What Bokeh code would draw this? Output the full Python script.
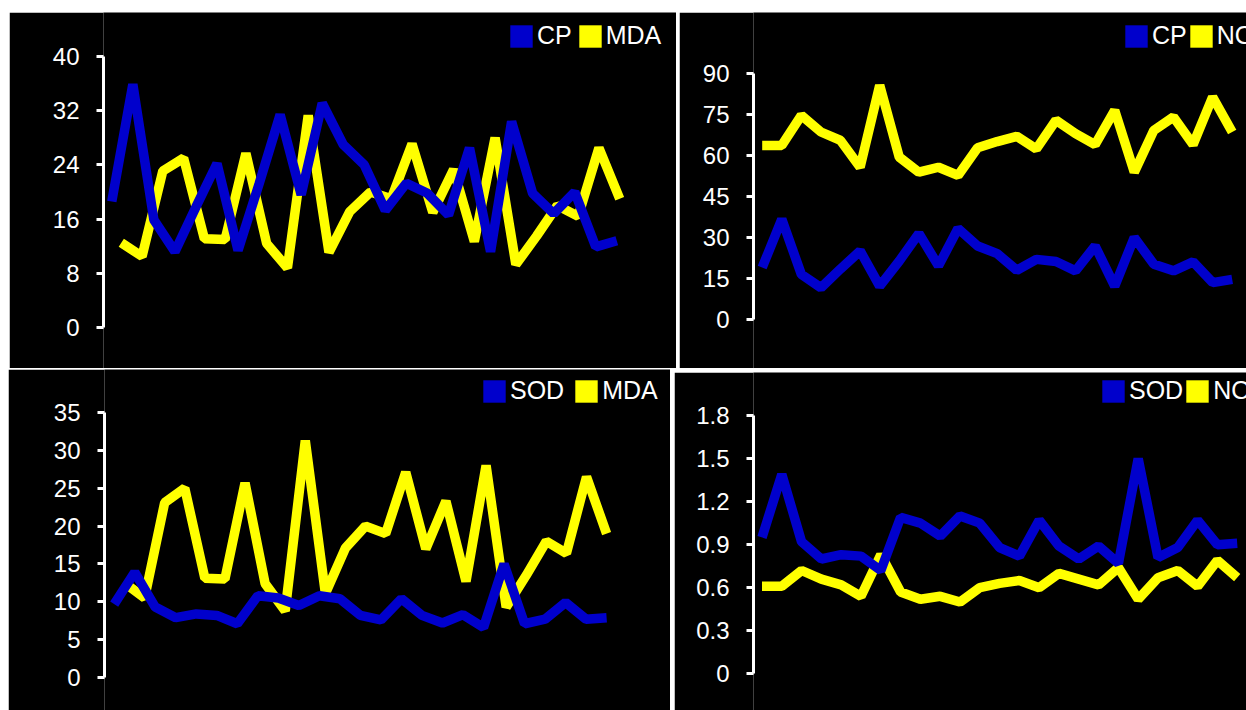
from bokeh.plotting import figure
from bokeh.models import Range1d, FixedTicker, Legend, LegendItem
from bokeh.layouts import row, column
from bokeh.embed import file_html
from bokeh.resources import INLINE

# ---------------- data ----------------
samples = list(range(1, 26))

mda = [12.5, 10.5, 23.1, 25.0, 13.1, 13.0, 25.7, 12.4, 8.8, 31.3, 11.1, 17.1, 20.0,
       19.0, 27.1, 17.0, 23.3, 12.7, 28.0, 9.3, 13.5, 18.0, 16.4, 26.5, 19.0]

cp_left = [18.6, 35.9, 15.9, 11.2, 17.8, 24.2, 11.4, 21.2, 31.4, 19.6, 33.1, 27.0, 24.0,
           17.3, 21.3, 19.8, 16.6, 26.5, 11.2, 30.4, 19.8, 16.8, 20.0, 11.9, 12.8]

cp_right = [19.0, 36.7, 16.5, 11.6, 18.5, 25.1, 12.2, 21.4, 31.5, 19.6, 33.3, 26.9, 24.1,
            18.0, 22.0, 21.2, 17.8, 26.9, 12.2, 30.0, 20.2, 17.8, 21.1, 13.5, 14.7]

no_top = [63.7, 63.7, 74.7, 68.6, 65.5, 55.7, 85.7, 59.4, 53.9, 55.7, 52.7, 62.8, 65.1,
          67.0, 62.4, 72.9, 68.0, 64.0, 76.5, 53.9, 69.2, 74.1, 64.0, 81.4, 68.6]

sod_left = [9.7, 13.9, 9.3, 7.9, 8.4, 8.2, 7.1, 10.8, 10.5, 9.5, 10.8, 10.4, 8.2,
            7.6, 10.4, 8.2, 7.2, 8.3, 6.6, 15.0, 7.1, 7.7, 9.9, 7.7, 7.9]

sod_right = [0.95, 1.39, 0.92, 0.80, 0.83, 0.82, 0.72, 1.09, 1.05, 0.96, 1.10, 1.05, 0.88,
             0.82, 1.07, 0.89, 0.80, 0.89, 0.77, 1.50, 0.81, 0.88, 1.07, 0.90, 0.91]

no_bottom = [0.61, 0.61, 0.72, 0.66, 0.62, 0.54, 0.83, 0.57, 0.52, 0.54, 0.50, 0.60, 0.63,
             0.65, 0.60, 0.70, 0.66, 0.62, 0.74, 0.52, 0.67, 0.72, 0.61, 0.79, 0.67]

ticks_cp_mda = [0, 8, 16, 24, 32, 40]
ticks_cp_no = [0, 15, 30, 45, 60, 75, 90]
ticks_sod_mda = [0, 5, 10, 15, 20, 25, 30, 35]
ticks_sod_no = [0, 0.3, 0.6, 0.9, 1.2, 1.5, 1.8]

# ---------------- style ----------------
BLUE = "#0000cc"
YELLOW = "#ffff00"
TICK_FONT = "Liberation Sans"
LEGEND_FONT = "Liberation Sans"


def make_panel(width, height, left, y_view, y_axis_end, yticks, xr_blue, xr_yellow,
               blue_vals, yellow_vals, blue_label, yellow_label, legend_xy,
               legend_spacing, overrides=None):
    p = figure(width=width, height=height,
               x_range=Range1d(*xr_blue), y_range=Range1d(*y_view),
               x_axis_location=None, y_axis_location="left",
               output_backend="svg", toolbar_location=None, tools="",
               min_border_left=left, min_border_right=0,
               min_border_top=0, min_border_bottom=0,
               background_fill_color="black", border_fill_color="black",
               outline_line_color=None)
    p.xgrid.grid_line_color = None
    p.ygrid.grid_line_color = None
    p.xgrid.visible = False
    p.ygrid.visible = False
    p.extra_x_ranges = {"yellow": Range1d(*xr_yellow)}

    ax = p.yaxis[0]
    ax.ticker = FixedTicker(ticks=yticks)
    ax.bounds = (0, y_axis_end)
    ax.axis_line_color = "white"
    ax.axis_line_width = 3
    ax.major_tick_line_color = "white"
    ax.major_tick_line_width = 3
    ax.major_tick_out = 7
    ax.major_tick_in = 0
    ax.minor_tick_line_color = None
    ax.major_label_text_color = "white"
    ax.major_label_text_font = TICK_FONT
    ax.major_label_text_font_size = "24px"
    ax.major_label_standoff = 17
    if overrides:
        ax.major_label_overrides = overrides

    p.line(samples, yellow_vals, x_range_name="yellow", line_color=YELLOW,
           line_width=9.5, line_join="bevel")
    p.line(samples, blue_vals, line_color=BLUE, line_width=9.5, line_join="bevel")

    # zero-size swatches at the series points: invisible in the plot,
    # used only to draw the square legend keys
    kb = p.rect(samples, blue_vals, width=0, height=0,
                fill_color=BLUE, line_color=None)
    ky = p.rect(samples, yellow_vals, width=0, height=0, x_range_name="yellow",
                fill_color=YELLOW, line_color=None)
    legend = Legend(items=[LegendItem(label=blue_label, renderers=[kb]),
                           LegendItem(label=yellow_label, renderers=[ky])],
                    location=legend_xy, orientation="horizontal",
                    glyph_width=28, glyph_height=28, label_standoff=2,
                    spacing=legend_spacing, padding=0, margin=0,
                    background_fill_alpha=0, border_line_alpha=0,
                    label_text_color="white", label_text_font=LEGEND_FONT,
                    label_text_font_size="25px")
    p.add_layout(legend)
    return p


p1 = make_panel(667, 356, 94, (-6.05, 46.49), 40, ticks_cp_mda,
                (0.606, 27.837), (0.143, 27.735),
                cp_left, mda, "CP", "MDA", (404, 318), 4)
p2 = make_panel(567, 356, 74, (-17.93, 112.32), 90, ticks_cp_no,
                (0.556, 25.730), (0.556, 25.730),
                cp_right, no_top, "CP", "NO", (369, 318), 0)
p3 = make_panel(662, 341, 96, (-4.358, 40.68), 35, ticks_sod_mda,
                (0.527, 28.114), (0.004, 28.181),
                sod_left, mda, "SOD", "MDA", (376, 305), 8)
p4 = make_panel(572, 338, 79, (-0.2557, 2.0997), 1.8, ticks_sod_no,
                (0.571, 25.470), (0.571, 25.470),
                sod_right, no_bottom, "SOD", "NO", (346, 305), 0,
                overrides={0: "0"})
p4.margin = (3, 0, 0, 0)

top_row = row(p1, p2, spacing=3, margin=(12, 0, 0, 9))
bottom_row = row(p3, p4, spacing=4, margin=(1, 0, 0, 8))
layout = column(top_row, bottom_row, spacing=0)

open("out.html", "w").write(file_html(layout, INLINE))
